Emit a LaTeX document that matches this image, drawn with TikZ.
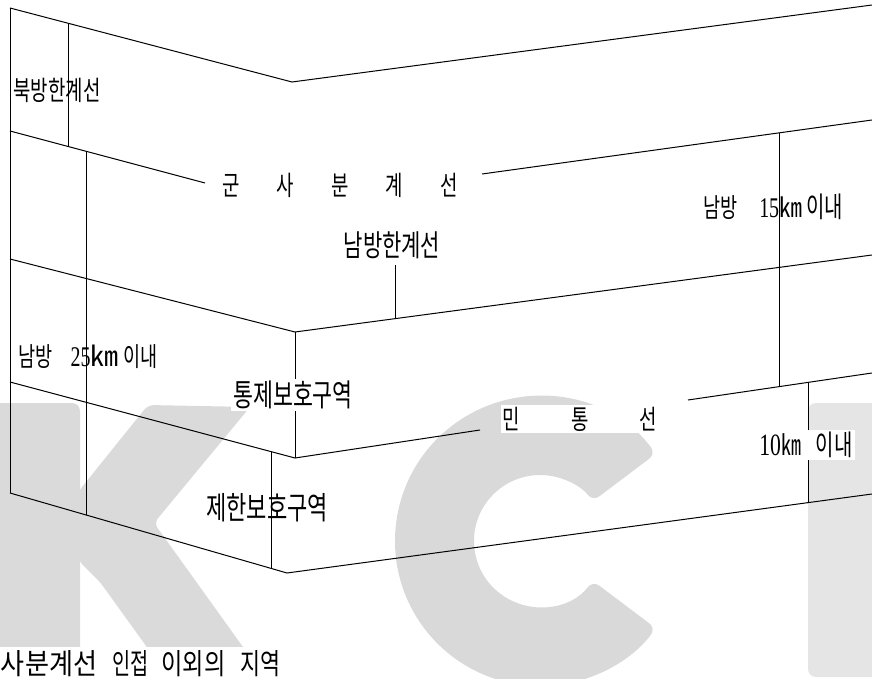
\documentclass[tikz,border=0pt]{standalone}
\usepackage{fontspec}
\usepackage{graphicx}
\usetikzlibrary{calc}
\setmainfont{Liberation Serif}
\newfontfamily\krfont{Noto Sans CJK KR}
\newcommand\kor[3][0.7]{\scalebox{#1}[1]{\fontsize{#2}{#2}\selectfont\krfont #3}}
\newcommand\num[2]{\scalebox{0.7}[1]{\fontsize{#1}{#1}\selectfont #2}}
\definecolor{wmK}{HTML}{DADADA}
\definecolor{wmC}{HTML}{D9D9D9}
\definecolor{wmI}{HTML}{E5E5E5}
\begin{document}
\begin{tikzpicture}[x=1pt,y=-1pt,
  ln/.style={line width=1pt,black},
  lbl/.style={inner sep=0pt,outer sep=0pt},
  wbox/.style={fill=white,inner sep=2pt,outer sep=0pt}]
\useasboundingbox (0,0) rectangle (872,679);
\clip (0,0) rectangle (872,679);
% watermark
\fill[wmK,rounded corners=8pt] (-10,403) -- (80,403) -- (80,700) -- (-10,700) -- cycle;
\fill[wmK,rounded corners=6pt] (78,492) -- (148,405) -- (250,407) -- (154,523) -- (281,700) -- (185,700) -- (100,582) -- (78,560) -- cycle;
\fill[wmC,rounded corners=8pt] (540,541) ++(-37:145) arc[start angle=-37,end angle=-323,radius=145]
  -- ($(540,541)+(37:66)$) arc[start angle=37,end angle=323,radius=66] -- cycle;
\fill[wmI,rounded corners=8pt] (808,403) rectangle (900,677);
\fill[white] (-1,647) rectangle (300,680);
% coordinates
\coordinate (t0) at (10,8);   \coordinate (t1) at (292,82);  \coordinate (t2) at (872,5);
\coordinate (m0) at (10,131); \coordinate (m1) at (205,183); \coordinate (m2) at (482,174); \coordinate (m3) at (872,120);
\coordinate (s0) at (10,259); \coordinate (s1) at (295,332); \coordinate (s2) at (872,255);
\coordinate (c0) at (10,382); \coordinate (c1) at (295,458); \coordinate (c2) at (480,430); \coordinate (c3) at (688,400); \coordinate (c4) at (872,373);
\coordinate (b0) at (10,493); \coordinate (b1) at (287,573); \coordinate (b2) at (872,494);
\coordinate (v1a) at (68,23.2);  \coordinate (v1b) at (68,146.5);
\coordinate (v2a) at (86,151.3); \coordinate (v2b) at (86,515);
\coordinate (v3a) at (395,265);  \coordinate (v3b) at (395,318.7);
\coordinate (v4a) at (779,132.9);\coordinate (v4b) at (779,386.6);
\coordinate (v5a) at (271,451.6);\coordinate (v5b) at (271,568.4);
\coordinate (v6a) at (808,382.4);\coordinate (v6b) at (808,502.6);
% lines
\draw[ln] (t0) -- (t1) -- (t2);
\draw[ln] (t0) -- (b0);
\draw[ln] (m0) -- (m1);
\draw[ln] (m2) -- (m3);
\draw[ln] (s0) -- (s1) -- (s2);
\draw[ln] (c0) -- (c1) -- (c2);
\draw[ln] (c3) -- (c4);
\draw[ln] (b0) -- (b1) -- (b2);
\draw[ln] (v1a) -- (v1b);
\draw[ln] (v2a) -- (v2b);
\draw[ln] (v3a) -- (v3b);
\draw[ln] (v4a) -- (v4b);
\draw[ln] (s1) -- (c1);
\draw[ln] (v5a) -- (v5b);
\draw[ln] (v6a) -- (v6b);
% labels
\node[lbl] (nb) at (57,90) {\kor{27}{북방한계선}};
\node[lbl] (mdl) at (340,185) {\kor{27}{군\hspace{53pt}사\hspace{53pt}분\hspace{53pt}계\hspace{53pt}선}};
\node[lbl] (k15) at (773,207) {\kor{26.5}{남방}\hspace{22pt}\num{28.5}{15}\kor[0.85]{27}{㎞}\hspace{4pt}\kor{28.5}{이내}};
\node[lbl] (nh) at (392,245) {\kor{30}{남방한계선}};
\node[lbl] (k25) at (88,357) {\kor{26.5}{남방}\hspace{18pt}\num{28.5}{25}\kor[1]{28}{㎞}\hspace{5pt}\kor{26.5}{이내}};
\node[wbox] (tj) at (293,395) {\kor{31}{통제보호구역}};
\node[lbl] (jh) at (267,508) {\kor{31.5}{제한보호구역}};
\node[wbox] (mt) at (580,419) {\kor{27}{민\hspace{73pt}통\hspace{73pt}선}};
\node[wbox] (k10) at (806,445) {\num{31}{10}\kor{28.5}{㎞}\hspace{15pt}\kor{28.5}{이내}};
\node[lbl,anchor=west] (bt) at (1,664) {\kor[0.9]{29}{사분계선}\hspace{15pt}\kor[0.68]{29}{인접}\hspace{13pt}\kor[0.8]{29}{이외의}\hspace{15pt}\kor[0.75]{29}{지역}};
\end{tikzpicture}
\end{document}
